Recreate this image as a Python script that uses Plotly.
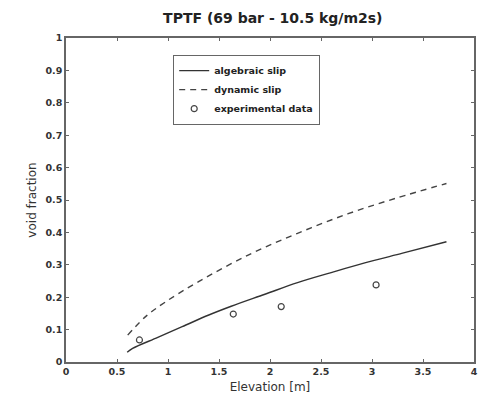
import plotly.graph_objects as go

alg_x = [0.6, 0.653, 0.9, 1.139, 1.4, 1.62, 1.95, 2.27, 2.6, 2.92, 3.3, 3.73]
alg_y = [0.03, 0.042, 0.076, 0.109, 0.145, 0.172, 0.209, 0.245, 0.276, 0.305, 0.336, 0.371]
dyn_x = [0.605, 0.78, 0.978, 1.3, 1.786, 2.27, 2.76, 3.24, 3.73]
dyn_y = [0.083, 0.14, 0.186, 0.248, 0.33, 0.397, 0.457, 0.506, 0.551]
exp_x = [0.72, 1.64, 2.11, 3.04]
exp_y = [0.068, 0.148, 0.171, 0.238]
x_ticks = [0, 0.5, 1, 1.5, 2, 2.5, 3, 3.5, 4]
y_ticks = [0, 0.1, 0.2, 0.3, 0.4, 0.5, 0.6, 0.7, 0.8, 0.9, 1]

FONT = "DejaVu Sans, Liberation Sans, Arial, sans-serif"

fig = go.Figure()
fig.add_trace(go.Scatter(x=alg_x, y=alg_y, mode="lines", name="algebraic slip",
                         line=dict(color="#333", width=1.4, shape="spline")))
fig.add_trace(go.Scatter(x=dyn_x, y=dyn_y, mode="lines", name="dynamic slip",
                         line=dict(color="#444", width=1.4, dash="6px,5px", shape="spline")))
fig.add_trace(go.Scatter(x=exp_x, y=exp_y, mode="markers", name="experimental data",
                         marker=dict(symbol="circle-open", size=6, color="#444", line=dict(width=1.2))))

axis_common = dict(showgrid=False, zeroline=False, ticks="inside", ticklen=3,
                   tickcolor="#666", showline=True, linecolor="#666", linewidth=1.5,
                   mirror="allticks",
                   tickfont=dict(size=9.5, color="#333", family=FONT, weight="bold"))
fig.update_layout(
    width=482, height=402,
    margin=dict(l=66, r=4, t=38, b=40),
    paper_bgcolor="white", plot_bgcolor="white",
    font=dict(family=FONT, color="#222"),
    title=dict(text="TPTF (69 bar - 10.5 kg/m2s)", x=0.566, xanchor="center",
               y=0.955, yanchor="middle",
               font=dict(size=14, color="#222", family=FONT, weight="bold")),
    xaxis=dict(range=[0, 4], tickvals=x_ticks, ticktext=[str(v) for v in x_ticks],
               title=dict(text="Elevation [m]", font=dict(size=12, color="#333"), standoff=6),
               **axis_common),
    yaxis=dict(range=[0, 1], tickvals=y_ticks, ticktext=[str(v) for v in y_ticks],
               title=dict(text="void fraction", font=dict(size=12, color="#333"), standoff=6),
               **axis_common),
    legend=dict(x=0.262, y=0.948, xanchor="left", yanchor="top",
                bordercolor="#666", borderwidth=1.3, bgcolor="white",
                font=dict(size=9.5, color="#222", family=FONT, weight="bold"),
                tracegroupgap=0, itemwidth=30),
    showlegend=True,
)
fig.write_html("out.html")
